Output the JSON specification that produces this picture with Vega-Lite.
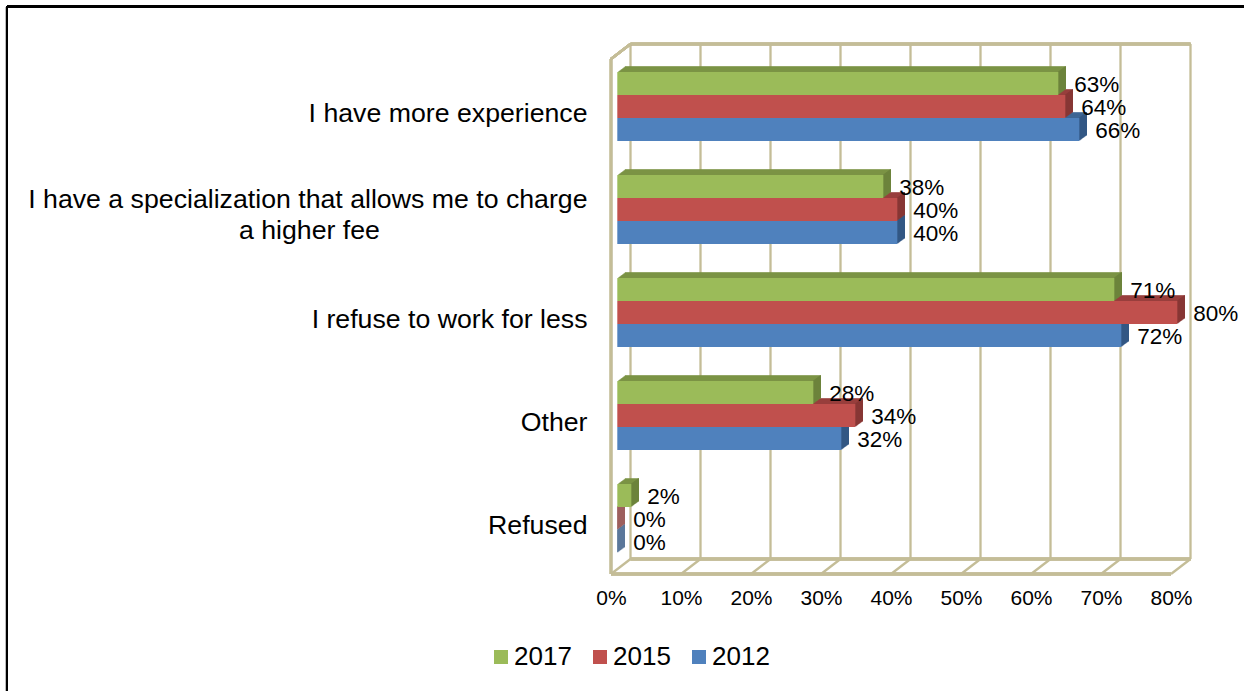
{
"$schema":"https://vega.github.io/schema/vega-lite/v6.json",
"width":1244,"height":691,"padding":0,"autosize":{"type":"none"},"background":"white",
"config":{"view":{"stroke":null},"font":"Liberation Sans","axis":{"grid":false,"domain":false,"ticks":false,"title":null}},
"datasets":{
"responses":[
{"category":"I have more experience","year":"2017","value":0.63},
{"category":"I have more experience","year":"2015","value":0.64},
{"category":"I have more experience","year":"2012","value":0.66},
{"category":"I have a specialization that allows me to charge a higher fee","year":"2017","value":0.38},
{"category":"I have a specialization that allows me to charge a higher fee","year":"2015","value":0.40},
{"category":"I have a specialization that allows me to charge a higher fee","year":"2012","value":0.40},
{"category":"I refuse to work for less","year":"2017","value":0.71},
{"category":"I refuse to work for less","year":"2015","value":0.80},
{"category":"I refuse to work for less","year":"2012","value":0.72},
{"category":"Other","year":"2017","value":0.28},
{"category":"Other","year":"2015","value":0.34},
{"category":"Other","year":"2012","value":0.32},
{"category":"Refused","year":"2017","value":0.02},
{"category":"Refused","year":"2015","value":0},
{"category":"Refused","year":"2012","value":0}
],
"ticks":[{"tick":0},{"tick":0.1},{"tick":0.2},{"tick":0.3},{"tick":0.4},{"tick":0.5},{"tick":0.6},{"tick":0.7},{"tick":0.8}]
},
"resolve":{"scale":{"y":"independent","color":"independent","yOffset":"independent"}},
"layer":[
{
"data":{"name":"ticks"},
"layer":[
{"mark":{"type":"rule","color":"#C4BD97","strokeWidth":2.3,"xOffset":19.5,"yOffset":-15,"y2Offset":-15},
 "encoding":{"x":{"field":"tick","type":"quantitative","scale":{"domain":[0,0.8],"range":[611,1171],"nice":false,"zero":false},"axis":{"values":[0,0.1,0.2,0.3,0.4,0.5,0.6,0.7,0.8],"format":".0%","orient":"bottom","offset":-104,"labelPadding":0,"labelFontSize":21,"labelBaseline":"top","labelColor":"black","labelFont":"Liberation Sans","labelFlush":false}},
 "y":{"datum":0,"type":"quantitative","scale":{"domain":[0,1],"range":[574,59],"nice":false,"zero":false},"axis":null},"y2":{"datum":1}}},
{"mark":{"type":"rule","color":"#C4BD97","strokeWidth":2.3,"x2Offset":19.5,"y2Offset":-15},
 "encoding":{"x":{"field":"tick","type":"quantitative"},"x2":{"field":"tick"},"y":{"datum":0,"type":"quantitative","axis":null},"y2":{"datum":0}}},
{"mark":{"type":"rule","color":"#C4BD97","strokeWidth":2.3},
 "encoding":{"x":{"datum":0,"type":"quantitative"},"x2":{"datum":0.8},"y":{"datum":0,"type":"quantitative","axis":null}}},
{"mark":{"type":"rule","color":"#C4BD97","strokeWidth":2.3,"xOffset":19.5,"x2Offset":19.5,"yOffset":-15},
 "encoding":{"x":{"datum":0,"type":"quantitative"},"x2":{"datum":0.8},"y":{"datum":0,"type":"quantitative","axis":null}}},
{"mark":{"type":"rule","color":"#C4BD97","strokeWidth":2.3,"xOffset":19.5,"x2Offset":19.5,"yOffset":-15},
 "encoding":{"x":{"datum":0,"type":"quantitative"},"x2":{"datum":0.8},"y":{"datum":1,"type":"quantitative","axis":null}}},
{"mark":{"type":"rule","color":"#C4BD97","strokeWidth":2.3},
 "encoding":{"x":{"datum":0,"type":"quantitative"},"y":{"datum":0,"type":"quantitative","axis":null},"y2":{"datum":1}}},
{"mark":{"type":"rule","color":"#C4BD97","strokeWidth":2.3,"x2Offset":19.5,"y2Offset":-15},
 "encoding":{"x":{"datum":0,"type":"quantitative"},"x2":{"datum":0},"y":{"datum":1,"type":"quantitative","axis":null},"y2":{"datum":1}}},
{"mark":{"type":"rule","color":"black","strokeWidth":2},
 "encoding":{"x":{"datum":-0.8629,"type":"quantitative"},"y":{"datum":1.102,"type":"quantitative","axis":null},"y2":{"datum":-0.24}}},
{"mark":{"type":"rule","color":"black","strokeWidth":2},
 "encoding":{"x":{"datum":-0.8629,"type":"quantitative"},"x2":{"datum":0.91},"y":{"datum":1.102,"type":"quantitative","axis":null}}}
]
},
{
"data":{"name":"responses"},
"encoding":{
"y":{"field":"category","type":"nominal","sort":null,"scale":{"range":[59,574],"paddingInner":0.33,"paddingOuter":0.165},
 "axis":{"orient":"left","offset":-587,"labelPadding":0,"labelFontSize":26.7,"labelColor":"black","labelFont":"Liberation Sans","labelLimit":0,"labelLineHeight":31,
  "labelOffset":{"condition":{"test":"indexof(datum.value,'specialization')>0","value":-14},"value":3},
  "labelExpr":"indexof(datum.label,'specialization')>0 ? ['I have a specialization that allows me to charge','a higher fee\u00a0\u00a0\u00a0\u00a0\u00a0\u00a0\u00a0\u00a0\u00a0\u00a0\u00a0\u00a0\u00a0\u00a0\u00a0\u00a0\u00a0\u00a0\u00a0\u00a0\u00a0\u00a0\u00a0\u00a0\u00a0\u00a0\u00a0\u00a0\u200b'] : datum.label"}},
"x":{"field":"value","type":"quantitative"}
},
"resolve":{"scale":{"color":"independent","yOffset":"independent"}},
"layer":[
{
"encoding":{"x2":{"datum":0},"color":{"field":"year","type":"nominal","legend":null,"scale":{"domain":["2017","2015","2012"],"range":["#7B9345","#983F3C","#3E6695"]}}},
"resolve":{"scale":{"yOffset":"independent"}},
"layer":[
{"mark":{"type":"rect","xOffset":14,"x2Offset":14},"encoding":{"yOffset":{"field":"year","type":"nominal","sort":["2017","2015","2012"],"scale":{"range":[-9.7,59.3],"paddingInner":0}}}},
{"mark":{"type":"rect","xOffset":13.3,"x2Offset":13.3},"encoding":{"yOffset":{"field":"year","type":"nominal","sort":["2017","2015","2012"],"scale":{"range":[-9.2,59.8],"paddingInner":0}}}},
{"mark":{"type":"rect","xOffset":12.3,"x2Offset":12.3},"encoding":{"yOffset":{"field":"year","type":"nominal","sort":["2017","2015","2012"],"scale":{"range":[-8.4,60.6],"paddingInner":0}}}},
{"mark":{"type":"rect","xOffset":11.3,"x2Offset":11.3},"encoding":{"yOffset":{"field":"year","type":"nominal","sort":["2017","2015","2012"],"scale":{"range":[-7.7,61.3],"paddingInner":0}}}},
{"mark":{"type":"rect","xOffset":10.3,"x2Offset":10.3},"encoding":{"yOffset":{"field":"year","type":"nominal","sort":["2017","2015","2012"],"scale":{"range":[-7,62],"paddingInner":0}}}},
{"mark":{"type":"rect","xOffset":9.3,"x2Offset":9.3},"encoding":{"yOffset":{"field":"year","type":"nominal","sort":["2017","2015","2012"],"scale":{"range":[-6.2,62.8],"paddingInner":0}}}},
{"mark":{"type":"rect","xOffset":8.3,"x2Offset":8.3},"encoding":{"yOffset":{"field":"year","type":"nominal","sort":["2017","2015","2012"],"scale":{"range":[-5.5,63.5],"paddingInner":0}}}},
{"mark":{"type":"rect","xOffset":7.3,"x2Offset":7.3},"encoding":{"yOffset":{"field":"year","type":"nominal","sort":["2017","2015","2012"],"scale":{"range":[-4.7,64.3],"paddingInner":0}}}}
]
},
{
"encoding":{"x2":{"field":"value"},"color":{"field":"year","type":"nominal","legend":null,"scale":{"domain":["2017","2015","2012"],"range":["#6A7F3B","#843634","#315480"]}}},
"resolve":{"scale":{"yOffset":"independent"}},
"layer":[
{"mark":{"type":"rect","xOffset":13.3,"x2Offset":14},"encoding":{"yOffset":{"field":"year","type":"nominal","sort":["2017","2015","2012"],"scale":{"range":[-9.7,59.3],"paddingInner":0}}}},
{"mark":{"type":"rect","xOffset":12.3,"x2Offset":13.3},"encoding":{"yOffset":{"field":"year","type":"nominal","sort":["2017","2015","2012"],"scale":{"range":[-9.2,59.8],"paddingInner":0}}}},
{"mark":{"type":"rect","xOffset":11.3,"x2Offset":12.3},"encoding":{"yOffset":{"field":"year","type":"nominal","sort":["2017","2015","2012"],"scale":{"range":[-8.4,60.6],"paddingInner":0}}}},
{"mark":{"type":"rect","xOffset":10.3,"x2Offset":11.3},"encoding":{"yOffset":{"field":"year","type":"nominal","sort":["2017","2015","2012"],"scale":{"range":[-7.7,61.3],"paddingInner":0}}}},
{"mark":{"type":"rect","xOffset":9.3,"x2Offset":10.3},"encoding":{"yOffset":{"field":"year","type":"nominal","sort":["2017","2015","2012"],"scale":{"range":[-7,62],"paddingInner":0}}}},
{"mark":{"type":"rect","xOffset":8.3,"x2Offset":9.3},"encoding":{"yOffset":{"field":"year","type":"nominal","sort":["2017","2015","2012"],"scale":{"range":[-6.2,62.8],"paddingInner":0}}}},
{"mark":{"type":"rect","xOffset":7.3,"x2Offset":8.3},"encoding":{"yOffset":{"field":"year","type":"nominal","sort":["2017","2015","2012"],"scale":{"range":[-5.5,63.5],"paddingInner":0}}}},
{"mark":{"type":"rect","xOffset":6.3,"x2Offset":7.3},"encoding":{"yOffset":{"field":"year","type":"nominal","sort":["2017","2015","2012"],"scale":{"range":[-4.7,64.3],"paddingInner":0}}}}
]
},
{
"mark":{"type":"rect","xOffset":6.3,"x2Offset":6.3},
"encoding":{"x2":{"datum":0},"yOffset":{"field":"year","type":"nominal","sort":["2017","2015","2012"],"scale":{"range":[-4,65],"paddingInner":0}},
 "color":{"field":"year","type":"nominal","scale":{"domain":["2017","2015","2012"],"range":["#9BBB59","#C0504D","#4F81BD"]},
 "legend":{"orient":"none","legendX":488,"legendY":644,"direction":"horizontal","columns":3,"title":null,"symbolType":"square","symbolSize":196,"symbolStrokeWidth":0,"symbolOpacity":1,"labelFontSize":26,"labelColor":"black","labelFont":"Liberation Sans","labelOffset":0,"columnPadding":15}}}
},
{
"mark":{"type":"text","align":"left","baseline":"middle","xOffset":6.3,"dx":16,"fontSize":22.5,"color":"black"},
"encoding":{"yOffset":{"field":"year","type":"nominal","sort":["2017","2015","2012"],"scale":{"range":[-2.5,66.5],"paddingInner":0}},"text":{"field":"value","type":"quantitative","format":".0%"}}
}
]
}
]
}
